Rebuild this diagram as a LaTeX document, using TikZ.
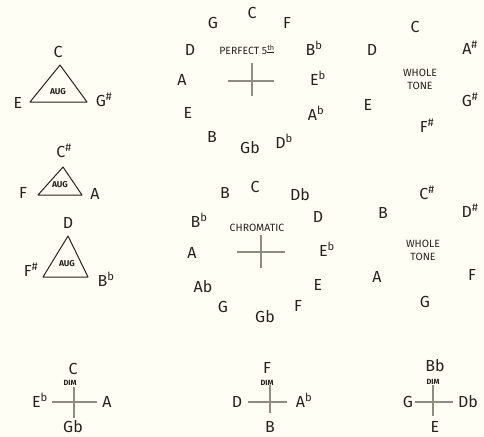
\documentclass[tikz,border=0pt]{standalone}
\usepackage{fontspec}
\setmainfont{Fira Sans}
\definecolor{paper}{RGB}{255,254,244}
\definecolor{ink}{RGB}{38,34,28}
\definecolor{pencil}{RGB}{145,140,128}
\newcommand{\fl}{\textsuperscript{b}}
\newcommand{\shp}{\textsuperscript{\#}}

\begin{document}
\begin{tikzpicture}[x=1pt, y=-1pt,
        note/.style={text=ink, font=\fontsize{16}{17}\selectfont, inner sep=1pt},
        tag/.style={text=ink, font=\fontsize{10.5}{11}\selectfont, align=center, inner sep=1pt},
        small/.style={text=ink, font=\fontsize{8.5}{9}\selectfont\bfseries, inner sep=0pt},
        dimtag/.style={text=ink, font=\fontsize{7.5}{8}\selectfont\bfseries, inner sep=0pt},
        crossline/.style={draw=pencil, line width=1.1pt},
        tri/.style={draw=ink, line width=1pt, line join=round}
    ]

    \fill[paper] (0,0) rectangle (484,436);
    \useasboundingbox (0,0) rectangle (484,436);

    % augmented triangles
    \coordinate (t1a) at (60,65);  \coordinate (t1b) at (30,102); \coordinate (t1c) at (87,102);
    \coordinate (t2a) at (63,167); \coordinate (t2b) at (38,195); \coordinate (t2c) at (82,195);
    \coordinate (t3a) at (68,236); \coordinate (t3b) at (43,277); \coordinate (t3c) at (88,277);
    \draw[tri] (t1a) -- (t1b) -- (t1c) -- cycle;
    \draw[tri] (t2a) -- (t2b) -- (t2c) -- cycle;
    \draw[tri] (t3a) -- (t3b) -- (t3c) -- cycle;

    \node[note] (a1top) at (58,52) {C};
    \node[note] (a1lft) at (18,103) {E};
    \node[note] (a1rgt) at (104,100) {G\shp};
    \node[small] (a1tag) at (58,92) {AUG};

    \node[note] (a2top) at (64,151) {C\shp};
    \node[note] (a2lft) at (23,193) {F};
    \node[note] (a2rgt) at (95,194) {A};
    \node[small] (a2tag) at (60,185) {AUG};

    \node[note] (a3top) at (68,223) {D};
    \node[note] (a3lft) at (31,270) {F\shp};
    \node[note] (a3rgt) at (106,279) {B\fl};
    \node[small] (a3tag) at (67,264) {AUG};

    % circle of perfect fifths
    \coordinate (p5x) at (252,81);
    \draw[crossline] (p5x) ++(-24,0) -- ++(46,0);
    \draw[crossline] (p5x) ++(0,-18) -- ++(0,33);
    \node[tag] (p5name) at (247,50) {PERFECT 5\textsuperscript{\underline{th}}};
    \node[note] (p5c)  at (252,13)  {C};
    \node[note] (p5g)  at (213,23)  {G};
    \node[note] (p5f)  at (287,23)  {F};
    \node[note] (p5d)  at (190,50)  {D};
    \node[note] (p5bb) at (314,48)  {B\fl};
    \node[note] (p5a)  at (182,80)  {A};
    \node[note] (p5eb) at (318,78)  {E\fl};
    \node[note] (p5e)  at (188,113) {E};
    \node[note] (p5ab) at (316,113) {A\fl};
    \node[note] (p5b)  at (212,137) {B};
    \node[note] (p5db) at (284,141) {D\fl};
    \node[note] (p5gb) at (250,148) {Gb};

    % chromatic circle
    \coordinate (chx) at (261,252);
    \draw[crossline] (chx) ++(-24,0) -- ++(48,0);
    \draw[crossline] (chx) ++(0,-17) -- ++(0,33);
    \node[tag] (chname) at (257,228) {CHROMATIC};
    \node[note] (chc)  at (255,187) {C};
    \node[note] (chb)  at (225,193) {B};
    \node[note] (chdb) at (300,195) {Db};
    \node[note] (chbb) at (199,220) {B\fl};
    \node[note] (chd)  at (318,217) {D};
    \node[note] (cha)  at (192,253) {A};
    \node[note] (cheb) at (327,249) {E\fl};
    \node[note] (chab) at (203,287) {Ab};
    \node[note] (che)  at (318,285) {E};
    \node[note] (chg)  at (223,307) {G};
    \node[note] (chf)  at (298,306) {F};
    \node[note] (chgb) at (265,317) {Gb};

    % whole tone scales
    \node[tag] (w1name) at (420,79) {WHOLE\\[2pt]TONE};
    \node[note] (w1c)  at (415,27)  {C};
    \node[note] (w1d)  at (372,50)  {D};
    \node[note] (w1as) at (470,48)  {A\shp};
    \node[note] (w1e)  at (368,105) {E};
    \node[note] (w1gs) at (470,100) {G\shp};
    \node[note] (w1fs) at (427,126) {F\shp};

    \node[tag] (w2name) at (423,250) {WHOLE\\[2pt]TONE};
    \node[note] (w2cs) at (427,193) {C\shp};
    \node[note] (w2b)  at (383,213) {B};
    \node[note] (w2ds) at (470,211) {D\shp};
    \node[note] (w2a)  at (377,277) {A};
    \node[note] (w2f)  at (472,275) {F};
    \node[note] (w2g)  at (425,302) {G};

    % diminished crosses
    \coordinate (d1x) at (74,402);
    \draw[crossline] (d1x) ++(-22,0) -- ++(45,0);
    \draw[crossline] (d1x) ++(0,-15) -- ++(0,31);
    \node[dimtag] (d1tag) at (70,383) {DIM};
    \node[note] (d1c)  at (73,369) {C};
    \node[note] (d1eb) at (40,400) {E\fl};
    \node[note] (d1a)  at (107,402) {A};
    \node[note] (d1gb) at (73,427) {Gb};

    \coordinate (d2x) at (270,402);
    \draw[crossline] (d2x) ++(-22,0) -- ++(39,0);
    \draw[crossline] (d2x) ++(0,-17) -- ++(0,28);
    \node[dimtag] (d2tag) at (267,383) {DIM};
    \node[note] (d2f)  at (267,368) {F};
    \node[note] (d2d)  at (237,402) {D};
    \node[note] (d2ab) at (304,400) {A\fl};
    \node[note] (d2b)  at (270,427) {B};

    \coordinate (d3x) at (433,402);
    \draw[crossline] (d3x) ++(-18,0) -- ++(38,0);
    \draw[crossline] (d3x) ++(0,-17) -- ++(0,31);
    \node[dimtag] (d3tag) at (433,382) {DIM};
    \node[note] (d3bb) at (435,366) {Bb};
    \node[note] (d3g)  at (408,402) {G};
    \node[note] (d3db) at (468,402) {Db};
    \node[note] (d3e)  at (435,427) {E};

\end{tikzpicture}
\end{document}
